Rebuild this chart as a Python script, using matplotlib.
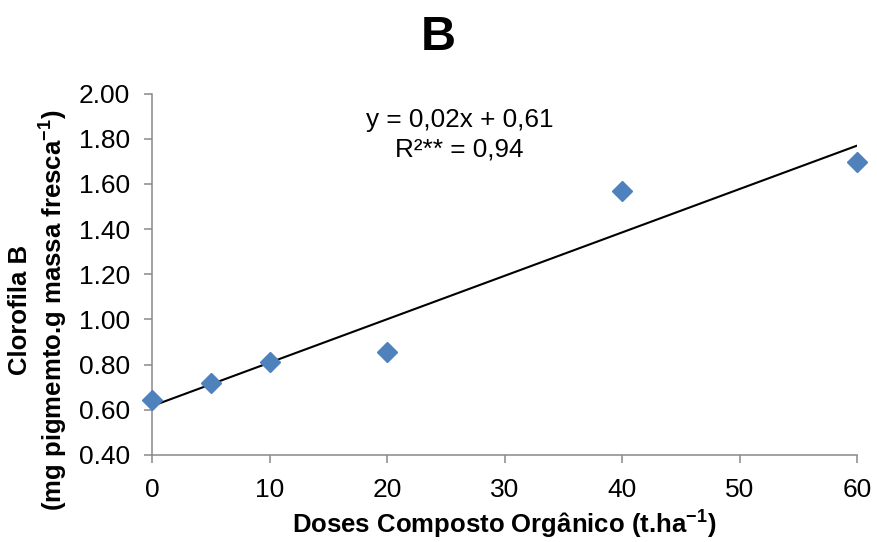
import numpy as np
import matplotlib
matplotlib.use("Agg")
import matplotlib.pyplot as plt

plt.rcParams['font.family'] = ['Liberation Sans', 'DejaVu Sans']
plt.rcParams['mathtext.fontset'] = 'custom'
plt.rcParams['mathtext.rm'] = 'Liberation Sans'
plt.rcParams['mathtext.bf'] = 'Liberation Sans:bold'

# data
doses = [0, 5, 10, 20, 40, 60]
clorofila_b = [0.645, 0.72, 0.81, 0.855, 1.568, 1.695]
x_ticks = [0, 10, 20, 30, 40, 50, 60]
y_ticks = [0.40, 0.60, 0.80, 1.00, 1.20, 1.40, 1.60, 1.80, 2.00]

W, H = 877, 542
fig = plt.figure(figsize=(W / 100, H / 100), dpi=100)
# axes box in pixels: x 152..857, y 93.5..455
ax = fig.add_axes([152 / W, 1 - 455 / H, 705 / W, 361.5 / H])

# linear trend line
slope, icpt = np.polyfit(doses, clorofila_b, 1)
xl = np.array([min(doses), max(doses)])
ax.plot(xl, slope * xl + icpt, color='black', lw=1.5, zorder=2)

ax.plot(doses, clorofila_b, linestyle='none', marker='D', ms=9.7,
        color='#4F81BD', mec='#4F81BD', zorder=3, clip_on=False)

ax.set_xlim(0, 60)
ax.set_ylim(0.4, 2.0)
ax.set_xticks(x_ticks)
ax.set_yticks(y_ticks)
ax.set_yticklabels(['%.2f' % v for v in y_ticks])
ax.tick_params(labelsize=19, color='#898989', width=1.1, direction='out')
ax.tick_params(axis='x', length=5.5, pad=11)
ax.tick_params(axis='y', length=6, pad=10)

for s in ['top', 'right']:
    ax.spines[s].set_visible(False)
for s in ['left', 'bottom']:
    ax.spines[s].set_color('#898989')
    ax.spines[s].set_linewidth(1.1)

ax.text(26.18, 1.853, 'y = 0,02x + 0,61', ha='center', va='baseline', fontsize=18.8)
ax.text(26.18, 1.72, 'R²** = 0,94', ha='center', va='baseline', fontsize=18.8)

fig.text(438 / W, 1 - 50 / H, 'B', ha='center', va='baseline',
         fontsize=35, fontweight='bold')

ax.set_xlabel(r'Doses Composto Orgânico (t.ha$^{\mathbf{-1}}$)', fontsize=18.5,
              fontweight='bold', labelpad=4)
ax.set_ylabel('Clorofila B\n' + r'(mg pigmemto.g massa fresca$^{\mathbf{-1}}$)',
              fontsize=18.5, fontweight='bold', linespacing=1.15)
ax.yaxis.set_label_coords(-0.1177, 0.401)

fig.savefig('out.png', dpi=100)
